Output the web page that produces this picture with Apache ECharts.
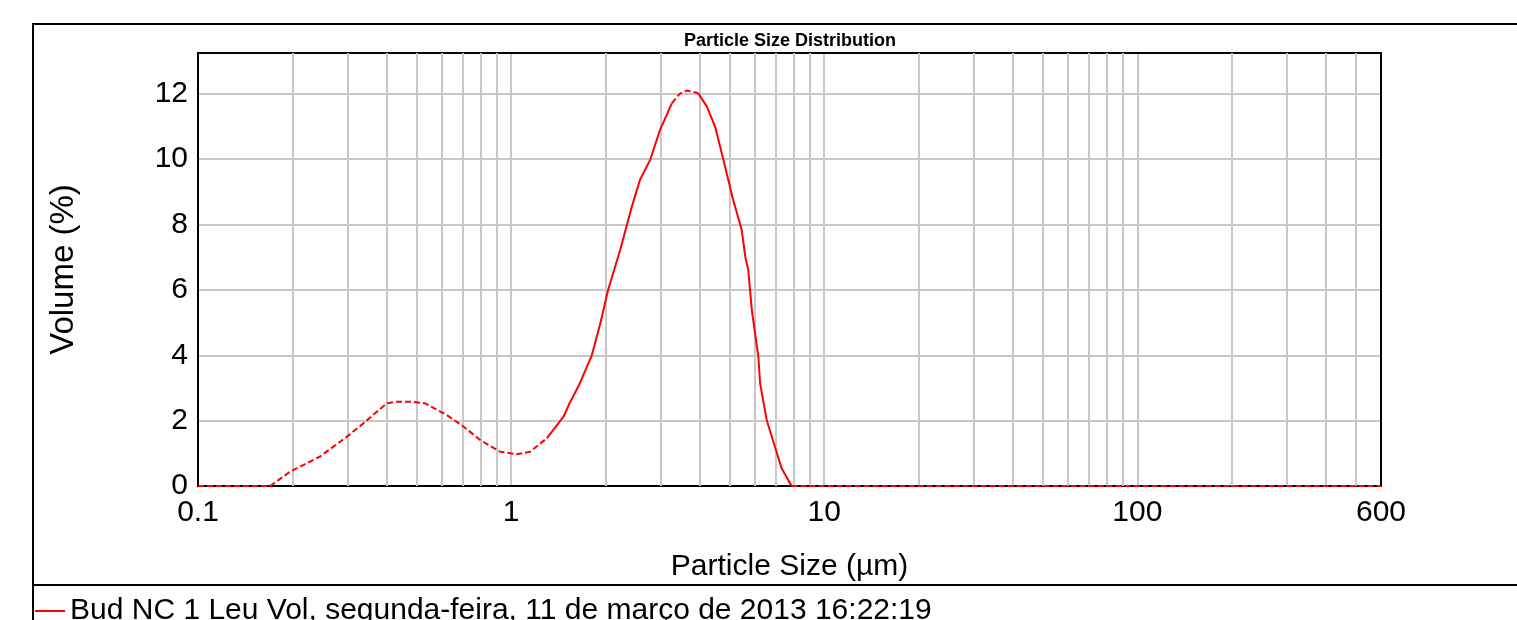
<!DOCTYPE html>
<html>
<head>
<meta charset="utf-8">
<script src="https://cdn.jsdelivr.net/npm/echarts@6/dist/echarts.min.js"></script>
<style>
  html, body { margin: 0; padding: 0; background: #fff; }
  #chart { width: 1517px; height: 620px; }
</style>
</head>
<body>
<div id="chart"></div>
<script>
// particle size (µm) and volume (%)
let sizes = [0.10, 0.17, 0.197, 0.245, 0.299, 0.333, 0.365, 0.401, 0.431, 0.48, 0.531, 0.623, 0.704, 0.796, 0.922, 1.043, 1.15, 1.30,
             1.47, 1.54, 1.65, 1.81, 1.93, 2.04, 2.23, 2.43, 2.58, 2.78, 2.99, 3.26, 3.45, 3.64, 3.96, 4.22, 4.48, 4.65, 4.88,
             5.12, 5.45, 5.60, 5.72, 5.87, 6.16, 6.24, 6.55, 6.96, 7.31, 7.78, 7.87, 600];
let volume = [0, 0, 0.44, 0.90, 1.51, 1.87, 2.20, 2.53, 2.58, 2.58, 2.53, 2.17, 1.82, 1.41, 1.05, 0.97, 1.05, 1.46,
              2.12, 2.55, 3.10, 4.00, 5.00, 6.00, 7.22, 8.55, 9.37, 9.98, 10.90, 11.71, 12.00, 12.10, 12.02, 11.61, 11.00, 10.39, 9.57,
              8.75, 7.84, 7.00, 6.61, 5.39, 3.96, 3.14, 2.02, 1.20, 0.54, 0.08, 0, 0];
// sizes where the drawn line switches between dashed and solid (starts dashed)
let styleBreaks = [1.30, 3.26, 3.96, 7.87];
let yTicks = [0, 2, 4, 6, 8, 10, 12];
let xLabels = [0.1, 1, 10, 100, 600];
let minorGrid = [0.2, 0.3, 0.4, 0.5, 0.6, 0.7, 0.8, 0.9, 2, 3, 4, 5, 6, 7, 8, 9,
                 20, 30, 40, 50, 60, 70, 80, 90, 200, 300, 400, 500];
let seriesName = 'Bud NC 1 Leu Vol, segunda-feira, 11 de março de 2013 16:22:19';

let font = "'Liberation Sans', Arial, sans-serif";
let gridColor = '#c8c8c8';

let points = sizes.map((s, i) => [s, volume[i]]);
let edges = [sizes[0]].concat(styleBreaks, [sizes[sizes.length - 1]]);
let pieces = [];
for (let k = 0; k < edges.length - 1; k++) {
    pieces.push({
        data: points.filter(p => p[0] >= edges[k] && p[0] <= edges[k + 1]),
        dashed: k % 2 === 0
    });
}

let series = pieces.map(p => ({
    name: seriesName,
    type: 'line',
    data: p.data,
    showSymbol: false,
    symbol: 'none',
    z: 5,
    lineStyle: { color: '#ff0000', width: 2, type: p.dashed ? [6, 3] : 'solid' },
    itemStyle: { color: '#ff0000' }
}));

// minor (2..9) vertical grid lines of the log axis
series.push({
    type: 'line',
    data: [],
    silent: true,
    z: 1,
    markLine: {
        silent: true,
        symbol: 'none',
        label: { show: false },
        lineStyle: { color: gridColor, width: 2, type: 'solid' },
        data: minorGrid.map(v => ({ xAxis: v }))
    }
});

let option = {
    animation: false,
    title: {
        text: 'Particle Size Distribution',
        left: 684,
        top: 32,
        padding: 0,
        textStyle: { fontFamily: font, fontSize: 18, fontWeight: 'bold', color: '#000' }
    },
    legend: {
        left: 35,
        top: 596,
        padding: 0,
        icon: 'rect',
        itemWidth: 30,
        itemHeight: 2,
        data: [seriesName],
        textStyle: { fontFamily: font, fontSize: 30, color: '#000' }
    },
    grid: {
        left: 198,
        right: 136,
        top: 53,
        bottom: 134,
        show: true,
        z: 3,
        borderColor: '#000',
        borderWidth: 2,
        containLabel: false
    },
    xAxis: {
        type: 'log',
        logBase: 10,
        min: 0.1,
        max: 600,
        name: 'Particle Size (µm)',
        nameLocation: 'middle',
        nameGap: 66,
        nameTextStyle: { fontFamily: font, fontSize: 30, color: '#000' },
        axisLine: { lineStyle: { color: '#000', width: 2 } },
        axisTick: { show: false },
        axisLabel: {
            fontFamily: font, fontSize: 30, color: '#000', margin: 12,
            showMinLabel: true, showMaxLabel: true,
            formatter: v => {
                let hit = xLabels.find(t => Math.abs(t - v) / t < 1e-6);
                return hit === undefined ? '' : String(hit);
            }
        },
        splitLine: { show: true, lineStyle: { color: gridColor, width: 2 } }
    },
    yAxis: {
        type: 'value',
        min: 0,
        max: 13.25,
        interval: 2,
        name: 'Volume (%)',
        nameLocation: 'middle',
        nameGap: 118,
        nameTextStyle: { fontFamily: font, fontSize: 33, color: '#000' },
        axisLine: { show: true, lineStyle: { color: '#000', width: 2 } },
        axisTick: { show: false },
        axisLabel: {
            fontFamily: font, fontSize: 30, color: '#000', margin: 10,
            showMaxLabel: false,
            formatter: v => (yTicks.indexOf(v) >= 0 ? String(v) : '')
        },
        splitLine: { show: true, lineStyle: { color: gridColor, width: 2 } }
    },
    graphic: [
        {
            type: 'rect',
            silent: true,
            z: -1,
            shape: { x: 33, y: 24, width: 1600, height: 700 },
            style: { fill: 'none', stroke: '#000', lineWidth: 2 }
        },
        {
            type: 'line',
            silent: true,
            shape: { x1: 33, y1: 585, x2: 1517, y2: 585 },
            style: { stroke: '#000', lineWidth: 2 }
        }
    ],
    series: series
};

let myChart = echarts.init(document.getElementById('chart'));
myChart.setOption(option);
</script>
</body>
</html>
